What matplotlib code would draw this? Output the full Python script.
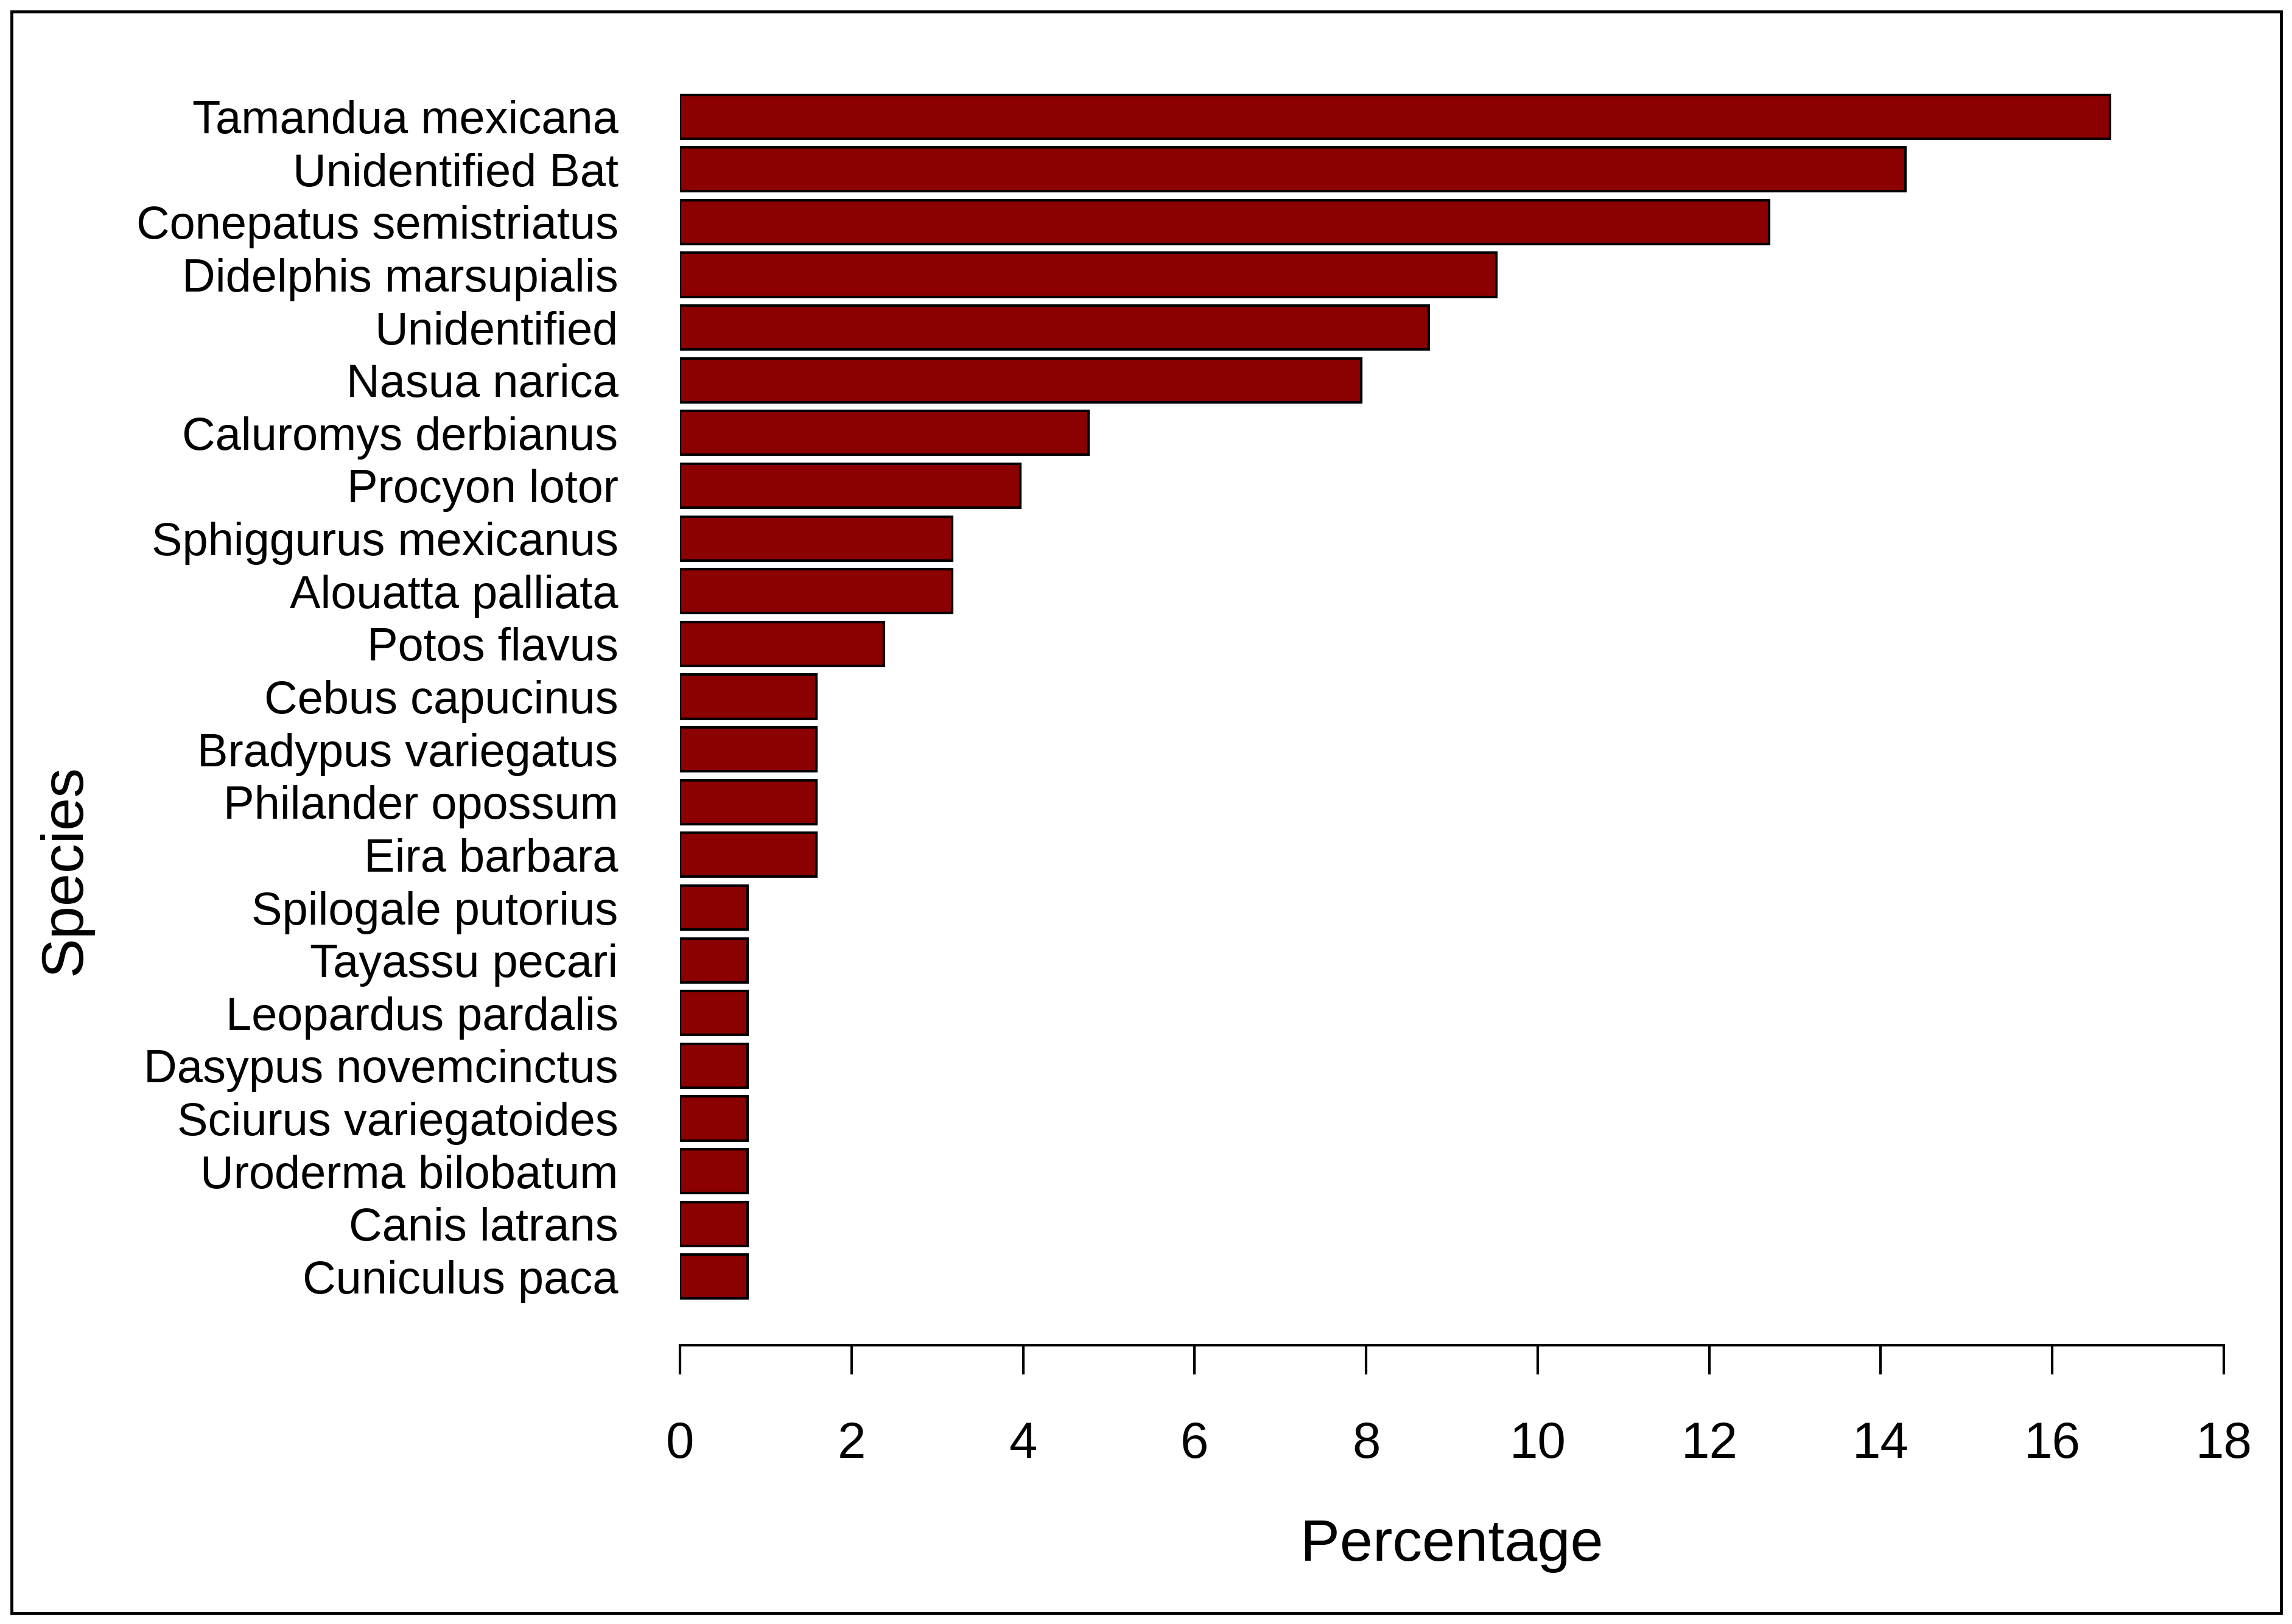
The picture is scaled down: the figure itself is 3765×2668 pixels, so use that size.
import matplotlib
matplotlib.use("Agg")
import matplotlib.pyplot as plt
from matplotlib.patches import Rectangle

species = ["Tamandua mexicana", "Unidentified Bat", "Conepatus semistriatus",
           "Didelphis marsupialis", "Unidentified", "Nasua narica",
           "Caluromys derbianus", "Procyon lotor", "Sphiggurus mexicanus",
           "Alouatta palliata", "Potos flavus", "Cebus capucinus",
           "Bradypus variegatus", "Philander opossum", "Eira barbara",
           "Spilogale putorius", "Tayassu pecari", "Leopardus pardalis",
           "Dasypus novemcinctus", "Sciurus variegatoides", "Uroderma bilobatum",
           "Canis latrans", "Cuniculus paca"]
percentage = [16.67, 14.29, 12.70, 9.52, 8.73, 7.94, 4.76, 3.97, 3.17, 3.17,
              2.38, 1.59, 1.59, 1.59, 1.59, 0.79, 0.79, 0.79, 0.79, 0.79,
              0.79, 0.79, 0.79]
xticks = [0, 2, 4, 6, 8, 10, 12, 14, 16, 18]

plt.rcParams['font.family'] = ['Liberation Sans', 'DejaVu Sans']

W, H = 3766, 2668
fig = plt.figure(figsize=(W / 100, H / 100), dpi=100)
fig.patch.set_facecolor("white")

ax = fig.add_axes([1117 / W, (H - 2210) / H, (3653 - 1117) / W, (2210 - 79) / H])
ypos = list(range(len(species)))
ax.barh(ypos, percentage, height=0.833, color="#8B0000", edgecolor="black",
        linewidth=3)
ax.set_xlim(0, 18)
ax.set_ylim(len(species) - 1 + 1.3, -1.3)
ax.set_yticks(ypos)
ax.set_yticklabels(species, fontsize=54.5)
ax.set_xticks(xticks)
ax.set_xticklabels([str(t) for t in xticks], fontsize=60)
for s in ["left", "top", "right"]:
    ax.spines[s].set_visible(False)
ax.spines["bottom"].set_linewidth(3)
ax.tick_params(axis="y", length=0, pad=73)
ax.tick_params(axis="x", length=34.6, width=3, direction="out", pad=55)

fig.text(2385 / W, (H - 2539) / H, "Percentage", fontsize=70,
         ha="center", va="center")
fig.text(108 / W, (H - 1429) / H, "Species", fontsize=70,
         ha="center", va="center", rotation=90)

fig.add_artist(Rectangle((19 / W, (H - 2650) / H), (3747 - 19) / W, (2650 - 19) / H,
                         transform=fig.transFigure, fill=False,
                         edgecolor="black", linewidth=3.5))

fig.savefig("out.png", dpi=100)
